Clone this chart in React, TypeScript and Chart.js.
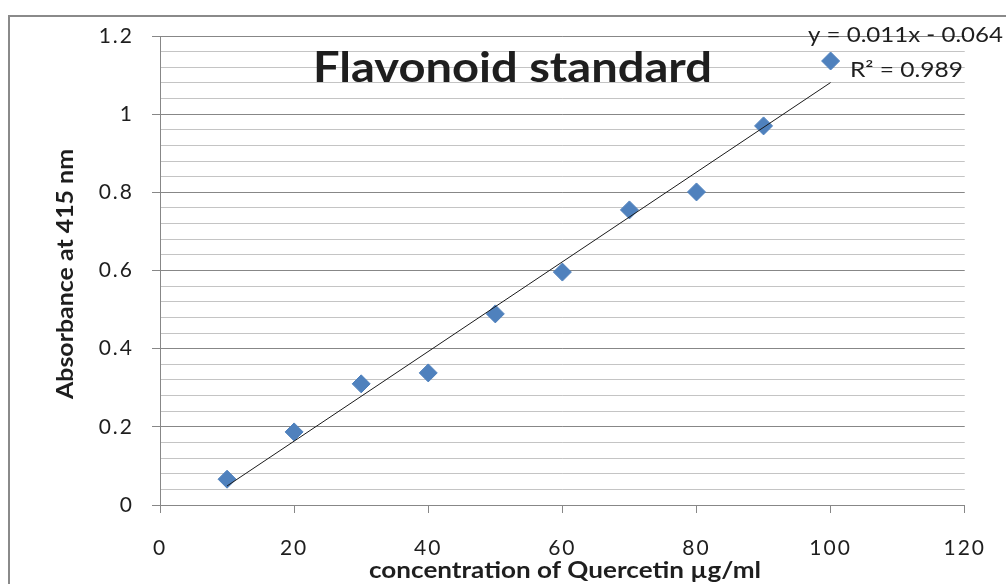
import React, { useEffect, useRef } from "react";
import { Chart, registerables } from "chart.js";

Chart.register(...registerables);

// ---- data ----
const concentrations = [10, 20, 30, 40, 50, 60, 70, 80, 90, 100];
const absorbance = [0.066, 0.187, 0.31, 0.338, 0.489, 0.596, 0.755, 0.801, 0.97, 1.136];
const xTickValues = [0, 20, 40, 60, 80, 100, 120];
const yMin = 0;
const yMax = 1.2;
const yMajorStep = 0.2;
const yMinorStep = 0.04;
const chartTitle = "Flavonoid standard";
const xAxisTitle = "concentration of Quercetin µg/ml";
const yAxisTitle = "Absorbance at 415 nm";
const equationText = "y = 0.011x - 0.064";
const r2Text = "R² = 0.989";

const FONT = "Lato, 'Open Sans', sans-serif";
const MAJOR = "#878787";
const MINOR = "#c4c4c4";
const TEXT = "#1e1e1e";
const BLUE = "#4f81bd";

function fitLine(xs: number[], ys: number[]) {
  const n = xs.length;
  const mx = xs.reduce((a, b) => a + b, 0) / n;
  const my = ys.reduce((a, b) => a + b, 0) / n;
  let sxy = 0;
  let sxx = 0;
  for (let i = 0; i < n; i++) {
    sxy += (xs[i] - mx) * (ys[i] - my);
    sxx += (xs[i] - mx) * (xs[i] - mx);
  }
  const slope = sxy / sxx;
  return { slope, intercept: my - slope * mx };
}

// draw text with a given height (font) stretched to a given width
function drawStretched(
  ctx: CanvasRenderingContext2D,
  text: string,
  font: string,
  x: number,
  y: number,
  align: CanvasTextAlign,
  width: number,
  rotate = 0
) {
  ctx.save();
  (ctx as any).letterSpacing = "0px";
  ctx.font = font;
  ctx.textAlign = align;
  ctx.textBaseline = "alphabetic";
  const w = ctx.measureText(text).width;
  ctx.translate(x, y);
  if (rotate) ctx.rotate(rotate);
  ctx.scale(width / w, 1);
  ctx.fillText(text, 0, 0);
  ctx.restore();
}

const spacingPlugin = {
  id: "excelSpacing",
  beforeDraw(chart: any) {
    (chart.ctx as any).letterSpacing = "2px";
  },
};

const textPlugin = {
  id: "excelText",
  afterDraw(chart: any) {
    const { ctx, chartArea } = chart;
    const L = chartArea.left;
    const T = chartArea.top;
    const B = chartArea.bottom;
    ctx.save();
    ctx.fillStyle = TEXT;
    drawStretched(ctx, chartTitle, `bold 42px ${FONT}`, L + 352.5, T + 46, "center", 399);
    drawStretched(ctx, equationText, `21px ${FONT}`, L + 648, T + 6, "left", 195);
    drawStretched(ctx, r2Text, `21px ${FONT}`, L + 690, T + 41, "left", 113);
    drawStretched(ctx, xAxisTitle, `bold 22px ${FONT}`, L + 405, B + 73, "center", 392);
    drawStretched(ctx, yAxisTitle, `bold 22px ${FONT}`, L - 87, T + 238, "center", 250, -Math.PI / 2);
    ctx.restore();
  },
};

export default function App() {
  const ref = useRef<HTMLCanvasElement | null>(null);

  useEffect(() => {
    if (!ref.current) return;
    const { slope, intercept } = fitLine(concentrations, absorbance);
    const x0 = concentrations[0];
    const x1 = concentrations[concentrations.length - 1];
    const ratio = Math.round(yMajorStep / yMinorStep);

    const chart = new Chart(ref.current, {
      type: "scatter",
      data: {
        datasets: [
          {
            type: "line",
            label: "Linear",
            data: [
              { x: x0, y: slope * x0 + intercept },
              { x: x1, y: slope * x1 + intercept },
            ],
            borderColor: "#1a1a1a",
            borderWidth: 1,
            pointRadius: 0,
            fill: false,
            order: 0,
          } as any,
          {
            label: "Absorbance",
            data: concentrations.map((c, i) => ({ x: c, y: absorbance[i] })),
            pointStyle: "rectRot",
            pointRadius: 9,
            backgroundColor: BLUE,
            borderColor: BLUE,
            borderWidth: 1,
            order: 1,
          },
        ],
      },
      options: {
        animation: false,
        responsive: false,
        events: [],
        layout: { padding: { top: 36, right: 40, left: 0, bottom: 0 } },
        plugins: {
          legend: { display: false },
          tooltip: { enabled: false },
          title: { display: false },
        },
        scales: {
          x: {
            type: "linear",
            min: xTickValues[0],
            max: xTickValues[xTickValues.length - 1],
            afterBuildTicks: (scale: any) => {
              scale.ticks = xTickValues.map((v) => ({ value: v }));
            },
            afterFit: (scale: any) => {
              scale.height = 79;
            },
            ticks: {
              color: TEXT,
              font: { family: FONT, size: 21 },
              padding: 23,
              maxRotation: 0,
              autoSkip: false,
            },
            grid: {
              drawOnChartArea: false,
              tickLength: 8,
              tickColor: MAJOR,
              lineWidth: 1,
            },
            border: { color: MAJOR, width: 1 },
          },
          y: {
            type: "linear",
            min: yMin,
            max: yMax,
            afterFit: (scale: any) => {
              scale.width = 160;
            },
            ticks: {
              stepSize: yMinorStep,
              autoSkip: false,
              color: TEXT,
              font: { family: FONT, size: 21 },
              padding: 18,
              callback: (value: any, index: number) =>
                index % ratio === 0 ? String(Math.round(Number(value) * 10) / 10) : "",
            },
            grid: {
              color: (c: any) => (c.index % ratio === 0 ? MAJOR : MINOR),
              tickColor: (c: any) => (c.index % ratio === 0 ? MAJOR : "rgba(0,0,0,0)"),
              tickLength: 8,
              lineWidth: 1,
            },
            border: { color: MAJOR, width: 1 },
          },
        },
      } as any,
      plugins: [spacingPlugin, textPlugin],
    });
    return () => chart.destroy();
  }, []);

  return (
    <div
      style={{
        position: "fixed",
        left: 0,
        top: 0,
        width: 1006,
        height: 584,
        overflow: "hidden",
        background: "#fff",
      }}
    >
      <div
        style={{
          position: "absolute",
          left: 8,
          top: 15,
          width: 1100,
          height: 700,
          border: "2px solid #8a8a8a",
        }}
      />
      <canvas
        ref={ref}
        width={1006}
        height={584}
        style={{ position: "absolute", left: 0, top: 0, width: 1006, height: 584 }}
      />
    </div>
  );
}
